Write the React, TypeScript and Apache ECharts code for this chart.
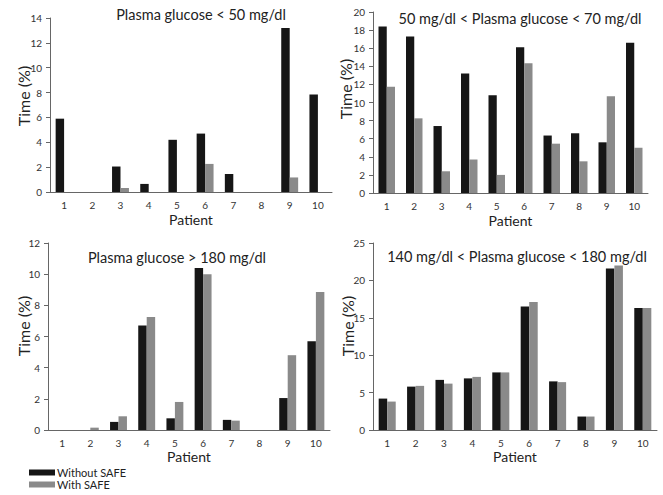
import React, { useEffect, useRef } from "react";
import * as echarts from "echarts";

const patients = ["1", "2", "3", "4", "5", "6", "7", "8", "9", "10"];

const titles = [
  "Plasma glucose < 50 mg/dl",
  "50 mg/dl < Plasma glucose < 70 mg/dl",
  "Plasma glucose > 180 mg/dl",
  "140 mg/dl < Plasma glucose < 180 mg/dl",
];

const p1Without = [5.9, 0, 2.05, 0.65, 4.2, 4.7, 1.45, 0, 13.2, 7.85];
const p1With = [0, 0, 0.32, 0, 0, 2.26, 0, 0, 1.17, 0];
const p2Without = [18.4, 17.3, 7.4, 13.2, 10.8, 16.1, 6.35, 6.6, 5.6, 16.6];
const p2With = [11.75, 8.25, 2.4, 3.7, 2.0, 14.35, 5.45, 3.5, 10.7, 5.0];
const p3Without = [0, 0, 0.52, 6.7, 0.75, 10.4, 0.65, 0, 2.05, 5.7];
const p3With = [0, 0.15, 0.88, 7.25, 1.8, 10.0, 0.6, 0, 4.8, 8.85];
const p4Without = [4.2, 5.8, 6.7, 6.9, 7.7, 16.5, 6.5, 1.8, 21.6, 16.3];
const p4With = [3.8, 5.9, 6.2, 7.1, 7.7, 17.1, 6.4, 1.8, 22.0, 16.3];

const yMax = [14, 20, 12, 25];
const yStep = [2, 2, 2, 5];

const seriesNames = ["Without SAFE", "With SAFE"];
const xName = "Patient";
const yName = "Time (%)";

const FONT = "Lato, 'Open Sans', sans-serif";
const BLACK = "#161616";
const GREY = "#8a8a8a";

export default function App() {
  const ref = useRef<HTMLDivElement>(null);
  useEffect(() => {
    if (!ref.current) return;
    const chart = echarts.init(ref.current, undefined, { renderer: "svg" });
    const grids = [
      { left: 50, width: 282, top: 18, height: 174 },
      { left: 373, width: 275, top: 12, height: 181 },
      { left: 48, width: 282, top: 243, height: 187 },
      { left: 373, width: 284, top: 243, height: 187 },
    ];
    const titlePos = [
      { x: 201, y: 14 },
      { x: 520, y: 18 },
      { x: 177, y: 257 },
      { x: 517, y: 256 },
    ];
    const dataW = [p1Without, p2Without, p3Without, p4Without];
    const dataS = [p1With, p2With, p3With, p4With];
    const axisColor = "#666";
    const option: any = {
      animation: false,
      backgroundColor: "#fff",
      textStyle: { fontFamily: FONT },
      grid: grids,
      legend: {
        data: seriesNames,
        orient: "vertical",
        left: 29,
        top: 467,
        height: 40,
        itemWidth: 26,
        itemHeight: 6,
        itemGap: 1,
        padding: 0,
        icon: "rect",
        textStyle: { fontSize: 11, color: "#222", fontFamily: FONT, padding: [0, 0, 0, -3] },
      },
      xAxis: grids.map((_, i) => ({
        type: "category",
        gridIndex: i,
        data: patients,
        name: xName,
        nameLocation: "middle",
        nameGap: i < 2 ? 20 : 19,
        nameTextStyle: { fontSize: 14, color: "#222", fontFamily: FONT },
        axisLine: { lineStyle: { color: axisColor, width: 1 } },
        axisTick: { length: 4, lineStyle: { color: axisColor } },
        axisLabel: { fontSize: 10, color: "#333", margin: 8, fontFamily: FONT },
        splitLine: { show: false },
      })),
      yAxis: grids.map((_, i) => ({
        type: "value",
        gridIndex: i,
        min: 0,
        max: yMax[i],
        interval: yStep[i],
        axisLine: { show: true, lineStyle: { color: axisColor, width: 1 } },
        axisTick: { show: true, length: 4, lineStyle: { color: axisColor } },
        axisLabel: { fontSize: 10, color: "#333", margin: 8, fontFamily: FONT },
        splitLine: { show: false },
      })),
      series: grids.flatMap((_, i) => [
        {
          type: "bar",
          name: seriesNames[0],
          xAxisIndex: i,
          yAxisIndex: i,
          data: dataW[i],
          barGap: "0%",
          barCategoryGap: "40%",
          itemStyle: { color: BLACK },
        },
        {
          type: "bar",
          name: seriesNames[1],
          xAxisIndex: i,
          yAxisIndex: i,
          data: dataS[i],
          barGap: "0%",
          barCategoryGap: "40%",
          itemStyle: { color: GREY },
        },
      ]),
      graphic: [
        ...titlePos.map((p, i) => ({
          type: "text",
          x: p.x,
          y: p.y,
          style: {
            text: titles[i],
            fontSize: 14.5,
            fontFamily: FONT,
            fill: "#222",
            textAlign: "center",
            textVerticalAlign: "middle",
          },
        })),
        ...[
          { x: 23, y: 96 },
          { x: 345, y: 89 },
          { x: 23, y: 326 },
          { x: 347, y: 326 },
        ].map((p) => ({
          type: "text",
          x: p.x,
          y: p.y,
          rotation: Math.PI / 2,
          style: {
            text: yName,
            fontSize: 16,
            fontFamily: FONT,
            fill: "#222",
            textAlign: "center",
            textVerticalAlign: "middle",
          },
        })),
      ],
    };
    chart.setOption(option);
    return () => chart.dispose();
  }, []);
  return (
    <div
      ref={ref}
      style={{ position: "fixed", left: 0, top: 0, width: 663, height: 495 }}
    />
  );
}
